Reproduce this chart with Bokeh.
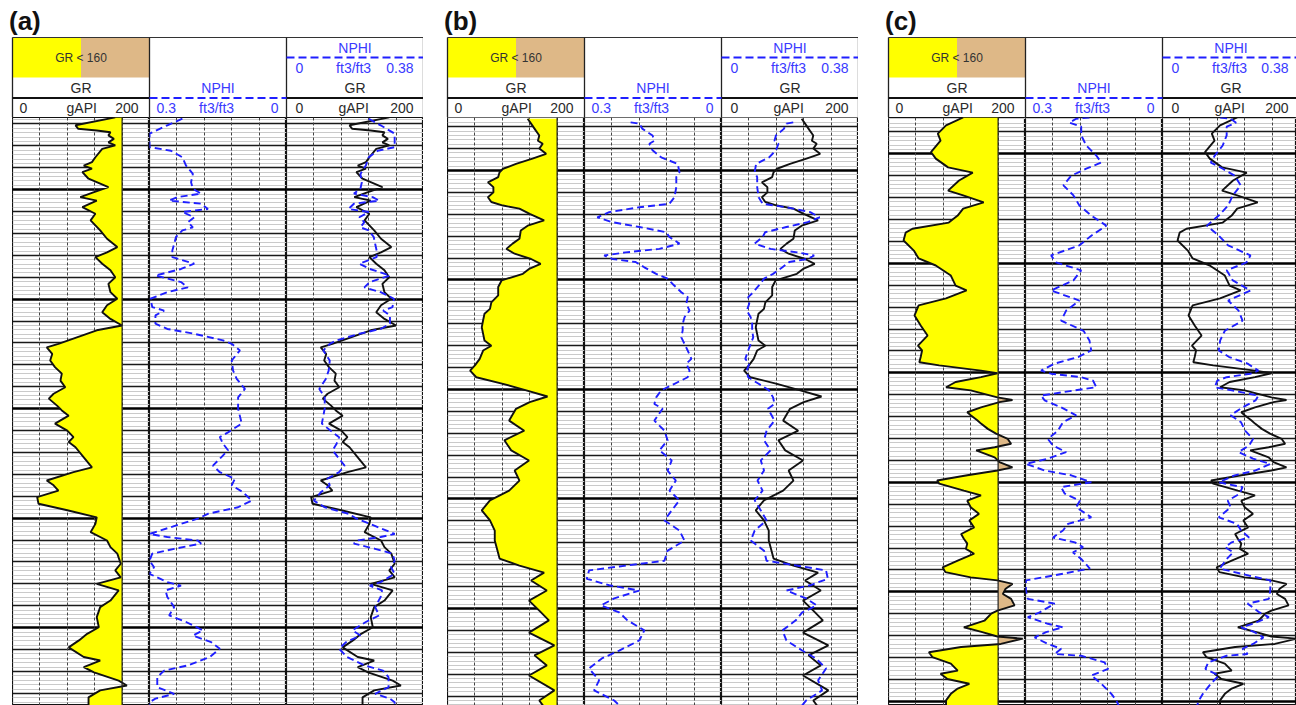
import numpy as np
from bokeh.plotting import figure
from bokeh.layouts import row, column, Spacer
from bokeh.models import Range1d, Grid, FixedTicker, Span
from bokeh.core.properties import value
from bokeh.embed import file_html
from bokeh.resources import INLINE

# ---------------- data (depth in log units, GR in gAPI, NPHI in ft3/ft3) ----------------
A_GR_DEPTH = [1008.5, 1010.3, 1011.1, 1011.5, 1011.9, 1012.6, 1013.4, 1014.2, 1014.9, 1015.7, 1017.6, 1018.7,
              1019.5, 1020.2, 1021.0, 1022.5, 1024.4, 1025.6, 1026.7, 1027.5, 1029.0, 1030.5, 1032.0, 1034.3,
              1036.2, 1038.1, 1039.3, 1040.4, 1041.9, 1043.4, 1045.0, 1046.5, 1048.4, 1049.9, 1051.4, 1053.0,
              1054.5, 1056.0, 1057.1, 1058.7, 1060.2, 1061.0, 1062.5, 1064.0, 1065.5, 1067.0, 1068.6, 1070.1,
              1071.6, 1072.7, 1074.3, 1075.4, 1076.6, 1078.4, 1080.0, 1081.5, 1082.6, 1083.8, 1086.1, 1088.4,
              1089.5, 1091.4, 1092.5, 1093.7, 1095.2, 1096.7, 1098.2, 1099.8, 1101.3, 1103.2, 1105.1, 1106.6,
              1108.1, 1110.4, 1111.9, 1113.5, 1115.0, 1116.5, 1118.8, 1120.3, 1122.6, 1124.9, 1126.4, 1127.9,
              1129.5, 1131.7, 1132.5, 1134.0, 1135.2, 1137.1, 1138.2, 1139.3, 1140.9, 1142.0, 1143.0]
A_GR = [150, 92, 96, 123, 143, 140, 148, 140, 150, 131, 121, 116,
        104, 116, 102, 111, 140, 118, 99, 123, 102, 121, 114, 128,
        138, 153, 138, 121, 131, 143, 150, 140, 143, 153, 138, 131,
        143, 160, 123, 94, 67, 50, 58, 55, 62, 72, 70, 77,
        60, 53, 65, 72, 82, 62, 80, 89, 82, 92, 104, 116,
        89, 50, 60, 67, 36, 38, 80, 123, 121, 114, 138, 143,
        153, 158, 150, 158, 123, 155, 143, 128, 123, 126, 109, 97,
        82, 104, 128, 104, 119, 155, 167, 128, 111, 111, 111]

A_NPHI_DEPTH = [1008.8, 1010.3, 1012.2, 1015.3, 1016.1, 1017.6, 1019.5, 1021.4, 1023.3, 1024.8, 1025.9, 1026.7,
                1027.5, 1028.2, 1029.4, 1030.1, 1031.3, 1032.4, 1033.6, 1034.3, 1035.8, 1037.4, 1038.9, 1040.4,
                1041.9, 1043.1, 1044.6, 1046.1, 1047.3, 1048.4, 1049.9, 1051.8, 1052.6, 1053.7, 1055.6, 1056.8,
                1057.9, 1059.4, 1060.2, 1061.7, 1064.0, 1066.3, 1068.2, 1070.5, 1072.4, 1075.0, 1078.4, 1080.4,
                1081.5, 1083.0, 1084.5, 1086.1, 1088.0, 1089.5, 1091.0, 1092.5, 1094.1, 1096.0, 1097.5, 1099.0,
                1100.1, 1101.3, 1102.8, 1103.6, 1104.3, 1105.1, 1105.8, 1107.0, 1108.1, 1109.7, 1111.2, 1112.7,
                1114.6, 1115.4, 1116.5, 1118.0, 1120.3, 1122.2, 1123.7, 1125.6, 1126.8, 1128.3, 1129.8, 1131.7,
                1133.6, 1134.8, 1136.3, 1138.6, 1140.1, 1141.2, 1142.0, 1143.0]
A_NPHI = [0.228, 0.261, 0.300, 0.300, 0.253, 0.228, 0.220, 0.205, 0.209, 0.205, 0.187, 0.239,
          0.257, 0.187, 0.172, 0.228, 0.202, 0.216, 0.205, 0.228, 0.242, 0.246, 0.250, 0.250,
          0.202, 0.231, 0.287, 0.231, 0.216, 0.261, 0.298, 0.294, 0.268, 0.287, 0.287, 0.261,
          0.202, 0.139, 0.120, 0.102, 0.120, 0.117, 0.109, 0.091, 0.106, 0.106, 0.098, 0.128,
          0.146, 0.139, 0.128, 0.143, 0.161, 0.146, 0.113, 0.120, 0.095, 0.076, 0.106, 0.172,
          0.194, 0.231, 0.276, 0.300, 0.261, 0.194, 0.187, 0.246, 0.294, 0.300, 0.290, 0.300,
          0.261, 0.231, 0.265, 0.261, 0.246, 0.257, 0.220, 0.183, 0.205, 0.165, 0.146, 0.168,
          0.216, 0.268, 0.283, 0.283, 0.246, 0.287, 0.300, 0.300]

B_GR_DEPTH = [1013.2, 1014.3, 1015.9, 1017.0, 1018.2, 1018.9, 1020.0, 1021.2, 1022.3, 1023.5, 1024.6, 1025.4,
              1026.5, 1027.7, 1028.8, 1030.0, 1031.1, 1032.2, 1033.0, 1033.7, 1034.9, 1036.4, 1037.6, 1038.7,
              1040.6, 1041.7, 1042.9, 1044.0, 1045.2, 1046.3, 1047.4, 1048.6, 1050.1, 1051.6, 1053.5, 1055.1,
              1056.6, 1057.7, 1059.2, 1060.8, 1062.3, 1063.8, 1065.0, 1066.1, 1068.0, 1069.5, 1070.7, 1072.2,
              1073.7, 1075.2, 1076.6, 1077.9, 1079.4, 1082.1, 1084.4, 1086.6, 1088.9, 1091.2, 1093.5, 1095.8,
              1098.1, 1100.3, 1102.6, 1104.9, 1107.2, 1109.5, 1111.8, 1113.6, 1115.2, 1116.8, 1118.6, 1120.9,
              1123.2, 1125.5, 1127.7, 1130.5, 1133.4, 1135.7, 1138.0, 1140.3, 1143.7, 1146.0, 1147.5]
B_GR = [117, 122, 129, 134, 132, 139, 134, 144, 124, 100, 81, 76,
        74, 59, 67, 67, 59, 64, 81, 105, 120, 141, 117, 107,
        105, 95, 86, 98, 122, 136, 120, 110, 79, 74, 74, 64,
        62, 54, 52, 50, 52, 54, 64, 52, 47, 40, 33, 42,
        81, 115, 146, 120, 100, 90, 112, 83, 93, 119, 98, 105,
        90, 62, 50, 62, 69, 69, 73, 76, 105, 141, 122, 145,
        119, 134, 148, 119, 156, 127, 145, 119, 156, 134, 141]

B_NPHI_DEPTH = [1014.0, 1014.3, 1015.5, 1017.0, 1018.2, 1018.9, 1020.4, 1022.0, 1023.5, 1025.4, 1026.5, 1028.8,
                1031.1, 1032.6, 1033.4, 1034.5, 1035.7, 1036.8, 1037.9, 1039.1, 1040.2, 1041.7, 1042.9, 1043.7,
                1044.4, 1045.2, 1045.9, 1047.1, 1048.6, 1049.7, 1050.9, 1052.8, 1053.9, 1055.4, 1057.0, 1058.5,
                1060.0, 1061.5, 1063.1, 1064.6, 1066.1, 1068.0, 1069.1, 1070.7, 1072.2, 1073.7, 1075.2, 1076.8,
                1078.3, 1079.4, 1082.1, 1084.4, 1086.6, 1088.9, 1091.2, 1093.5, 1095.8, 1098.1, 1100.3, 1102.6,
                1104.9, 1107.2, 1109.5, 1111.8, 1114.1, 1115.4, 1116.3, 1118.2, 1119.7, 1120.9, 1122.7, 1124.3,
                1125.9, 1127.7, 1130.0, 1132.3, 1134.6, 1136.4, 1138.7, 1141.4, 1143.7, 1146.0, 1147.5]
B_NPHI = [0.199, 0.180, 0.173, 0.151, 0.147, 0.158, 0.151, 0.132, 0.096, 0.092, 0.099, 0.099,
          0.103, 0.114, 0.180, 0.246, 0.272, 0.239, 0.180, 0.121, 0.114, 0.092, 0.136, 0.210,
          0.257, 0.239, 0.188, 0.169, 0.143, 0.118, 0.107, 0.088, 0.074, 0.077, 0.070, 0.081,
          0.085, 0.085, 0.088, 0.081, 0.074, 0.066, 0.077, 0.070, 0.074, 0.103, 0.132, 0.143,
          0.147, 0.129, 0.147, 0.125, 0.118, 0.136, 0.109, 0.118, 0.100, 0.114, 0.092, 0.109,
          0.125, 0.092, 0.081, 0.118, 0.125, 0.224, 0.290, 0.295, 0.246, 0.180, 0.235, 0.264,
          0.224, 0.206, 0.169, 0.180, 0.224, 0.262, 0.290, 0.268, 0.279, 0.235, 0.220]

C_GR_DEPTH = [1016.7, 1018.5, 1020.4, 1022.0, 1024.6, 1026.1, 1028.1, 1029.3, 1031.1, 1033.4, 1034.5, 1036.1,
              1037.5, 1039.1, 1040.7, 1042.1, 1043.0, 1044.8, 1047.1, 1048.9, 1050.5, 1052.8, 1055.1, 1056.2,
              1058.0, 1059.6, 1061.9, 1064.2, 1066.5, 1068.8, 1069.9, 1071.4, 1072.6, 1073.3, 1074.5, 1075.1,
              1076.0, 1077.1, 1078.3, 1079.0, 1080.6, 1081.2, 1081.7, 1082.9, 1084.0, 1084.7, 1085.9, 1086.6,
              1087.8, 1088.9, 1090.1, 1091.2, 1092.0, 1092.7, 1094.3, 1095.4, 1096.6, 1097.3, 1098.4, 1099.6,
              1100.3, 1101.9, 1103.0, 1104.2, 1105.7, 1107.2, 1108.7, 1110.3, 1111.8, 1112.9, 1114.0, 1115.2,
              1116.3, 1117.9, 1119.4, 1120.5, 1121.7, 1122.4, 1123.2, 1124.3, 1125.5, 1126.6, 1128.1, 1129.3,
              1130.0, 1131.6, 1133.1, 1134.2, 1135.2, 1135.7, 1136.9, 1137.6, 1138.8, 1139.9, 1141.4, 1143.0,
              1143.7, 1144.9, 1146.0, 1147.1, 1148.3, 1149.8, 1151.2]
C_GR = [109, 84, 72, 76, 62, 69, 87, 123, 103, 87, 109, 139,
        109, 101, 88, 35, 25, 22, 37, 44, 69, 91, 98, 114,
        84, 44, 38, 47, 57, 43, 49, 47, 45, 74, 135, 159,
        135, 98, 84, 120, 159, 181, 162, 135, 115, 120, 130, 135,
        145, 157, 174, 179, 155, 128, 155, 162, 181, 159, 115, 71,
        74, 110, 135, 115, 120, 132, 118, 125, 106, 110, 115, 113,
        125, 101, 79, 83, 120, 159, 181, 171, 167, 179, 184, 159,
        150, 140, 110, 137, 159, 196, 164, 106, 59, 64, 91, 101,
        76, 86, 118, 101, 91, 84, 84]

C_NPHI_DEPTH = [1016.7, 1017.0, 1017.9, 1018.8, 1020.8, 1023.1, 1025.4, 1027.0, 1028.4, 1030.0, 1032.2, 1034.5,
                1036.8, 1039.1, 1041.4, 1043.7, 1045.9, 1048.2, 1049.8, 1051.6, 1053.9, 1056.2, 1058.5, 1060.8,
                1063.1, 1065.4, 1067.6, 1069.9, 1071.4, 1072.9, 1074.5, 1075.2, 1076.0, 1076.8, 1078.3, 1079.0,
                1080.2, 1081.3, 1082.9, 1084.7, 1086.3, 1088.2, 1090.1, 1091.6, 1093.1, 1094.6, 1095.8, 1097.3,
                1098.4, 1100.0, 1101.1, 1102.6, 1104.2, 1105.7, 1108.0, 1109.5, 1111.0, 1112.6, 1113.7, 1114.8,
                1116.0, 1117.5, 1119.7, 1121.3, 1122.4, 1124.7, 1126.6, 1127.7, 1129.7, 1130.8, 1132.3, 1133.1,
                1134.2, 1135.4, 1136.9, 1138.0, 1139.2, 1139.6, 1141.1, 1142.6, 1144.1, 1146.0, 1148.3, 1149.8,
                1151.2]
C_NPHI = [0.160, 0.189, 0.204, 0.178, 0.178, 0.167, 0.145, 0.134, 0.167, 0.200, 0.217, 0.195,
          0.182, 0.156, 0.123, 0.156, 0.182, 0.244, 0.233, 0.178, 0.195, 0.244, 0.182, 0.211,
          0.222, 0.173, 0.160, 0.156, 0.185, 0.236, 0.266, 0.244, 0.178, 0.152, 0.145, 0.192,
          0.266, 0.258, 0.222, 0.189, 0.218, 0.229, 0.251, 0.240, 0.211, 0.251, 0.299, 0.258,
          0.200, 0.156, 0.222, 0.214, 0.181, 0.189, 0.156, 0.207, 0.218, 0.240, 0.192, 0.174,
          0.196, 0.178, 0.159, 0.240, 0.299, 0.299, 0.295, 0.236, 0.269, 0.295, 0.251, 0.218,
          0.255, 0.280, 0.251, 0.222, 0.236, 0.178, 0.127, 0.119, 0.156, 0.134, 0.112, 0.101,
          0.095]

GR_CUTOFF = 160
GR_SCALE = (0, 200)
NPHI_SCALE_TRACK = (0.3, 0.0)
NPHI_SCALE_OVERLAY = (0.0, 0.38)
GRID_MINOR, GRID_MEDIUM, GRID_MAJOR = 1, 5, 25

# ---------------- layout constants ----------------
TRACK_W = 137
PLOT_H = 588
HEAD_H = 117
PX_PER_UNIT = 4.38
FONT = "Liberation Sans"
BLUE = "#1f1fff"
BLUE_TXT = "#3a3aff"
TXT = "#2a2a2a"


def densify_cut(d, g, cut):
    dd, gg = [d[0]], [g[0]]
    for i in range(1, len(d)):
        if (g[i - 1] - cut) * (g[i] - cut) < 0:
            t = (cut - g[i - 1]) / (g[i] - g[i - 1])
            dd.append(d[i - 1] + t * (d[i] - d[i - 1]))
            gg.append(cut)
        dd.append(d[i])
        gg.append(g[i])
    return np.array(dd), np.array(gg, dtype=float)


def base_track(width, xr, top):
    bottom = top + PLOT_H / PX_PER_UNIT
    p = figure(width=width, height=PLOT_H, x_range=xr, y_range=Range1d(bottom, top),
               x_axis_type=None, y_axis_type=None, toolbar_location=None,
               output_backend="svg", min_border=0,
               outline_line_color="#111111", outline_line_width=1.2,
               background_fill_color="white", border_fill_color="white")
    lo = int(np.floor(top)) - 1
    hi = int(np.ceil(bottom)) + 1
    minor = [v for v in range(lo, hi) if v % GRID_MINOR == 0 and v % GRID_MEDIUM != 0]
    medium = [v for v in range(lo, hi) if v % GRID_MEDIUM == 0 and v % GRID_MAJOR != 0]
    major = [v for v in range(lo, hi) if v % GRID_MAJOR == 0]
    p.add_layout(Grid(dimension=1, ticker=FixedTicker(ticks=minor), grid_line_color="#cacaca", grid_line_width=1))
    p.add_layout(Grid(dimension=1, ticker=FixedTicker(ticks=medium), grid_line_color="#1a1a1a", grid_line_width=1.4))
    p.add_layout(Grid(dimension=1, ticker=FixedTicker(ticks=major), grid_line_color="#000000", grid_line_width=2.4))
    return p


def vgrid(p, ticks):
    p.add_layout(Grid(dimension=0, ticker=FixedTicker(ticks=ticks), grid_line_color="#444444",
                      grid_line_width=1, grid_line_dash="3 2"))


def gr_track(width, top, d, g):
    p = base_track(width, Range1d(*GR_SCALE), top)
    vgrid(p, [40, 80, 120, 160])
    dd, gg = densify_cut(d, g, GR_CUTOFF)
    p.harea(x1=np.minimum(gg, GR_CUTOFF), x2=GR_CUTOFF, y=dd, fill_color="#ffff00")
    p.harea(x1=GR_CUTOFF, x2=np.maximum(gg, GR_CUTOFF), y=dd, fill_color="#deb887")
    p.add_layout(Span(location=GR_CUTOFF, dimension="height", line_color="#222222", line_width=1.2))
    p.line(g, d, line_color="#111111", line_width=1.9)
    return p


def nphi_track(width, top, d, n):
    p = base_track(width, Range1d(*NPHI_SCALE_TRACK), top)
    vgrid(p, [0.24, 0.18, 0.12, 0.06])
    p.line(n, d, line_color=BLUE, line_width=1.9, line_dash="7 4")
    return p


def overlay_track(width, top, dg, g, dn, n):
    frac = width / TRACK_W
    p = base_track(width, Range1d(GR_SCALE[0], GR_SCALE[0] + (GR_SCALE[1] - GR_SCALE[0]) * frac), top)
    p.extra_x_ranges = {"nphi": Range1d(NPHI_SCALE_OVERLAY[0],
                                        NPHI_SCALE_OVERLAY[0] + (NPHI_SCALE_OVERLAY[1] - NPHI_SCALE_OVERLAY[0]) * frac)}
    vgrid(p, [40, 80, 120, 160])
    p.line(g, dg, line_color="#111111", line_width=1.9)
    p.line(n, dn, line_color=BLUE, line_width=1.9, line_dash="7 4", x_range_name="nphi")
    return p


def header(label, widths, pad):
    total = pad + sum(widths)
    x0 = -pad / TRACK_W
    x1 = x0 + total / TRACK_W
    xend = sum(widths) / TRACK_W
    p = figure(width=total, height=HEAD_H, x_range=Range1d(x0, x1), y_range=Range1d(HEAD_H, 0),
               x_axis_type=None, y_axis_type=None, toolbar_location=None, output_backend="svg",
               min_border=0, outline_line_color=None, background_fill_color="white", border_fill_color="white")
    u = 1.0 / TRACK_W
    p.text(x=[-3.5 * u], y=[20], text=[label], text_font=value(FONT), text_font_style="bold",
           text_font_size="26px", text_baseline="middle", text_align="left", text_color="#111111")
    # GR < 160 box
    p.quad(left=[0, 0.5], right=[0.5, 1.0], top=[37, 37], bottom=[77, 77],
           fill_color=["#ffff00", "#deb887"], line_color=None)
    p.text(x=[0.5], y=[57.5], text=["GR < 160"], text_font=value(FONT), text_font_size="12px",
           text_baseline="middle", text_align="center", text_color="#333333")
    # frame lines
    p.segment(x0=[0], y0=[37], x1=[xend], y1=[37], line_color="#333333", line_width=1)
    seps = [s for s in [0, 1, 2, 3] if s <= xend + 1e-9]
    p.segment(x0=seps, y0=[37] * len(seps), x1=seps, y1=[HEAD_H] * len(seps), line_color="#222222", line_width=1.3)
    # heavy line above scale row
    p.segment(x0=[0, 2], y0=[97.5, 97.5], x1=[1, xend], y1=[97.5, 97.5], line_color="#111111", line_width=2.2)
    p.segment(x0=[1], y0=[97.5], x1=[2], y1=[97.5], line_color=BLUE, line_width=2.2, line_dash="8 4")
    # track 3 NPHI scale block
    p.segment(x0=[2], y0=[57], x1=[xend], y1=[57], line_color=BLUE, line_width=2.2, line_dash="8 4")
    right3 = min(3 - 10 * u, xend - 8 * u)
    common = dict(text_font=value(FONT), text_font_size="14px", text_baseline="middle")
    p.text(x=[2.5], y=[47], text=["NPHI"], text_align="center", text_color=BLUE_TXT, **common)
    p.text(x=[2 + 9 * u], y=[67], text=["0"], text_align="left", text_color=BLUE_TXT, **common)
    p.text(x=[2.49], y=[67], text=["ft3/ft3"], text_align="center", text_color=BLUE_TXT, **common)
    p.text(x=[right3], y=[67], text=["0.38"], text_align="right", text_color=BLUE_TXT, **common)
    # row 2
    p.text(x=[0.5, 2.5], y=[87.5, 87.5], text=["GR", "GR"], text_align="center", text_color=TXT, **common)
    p.text(x=[1.5], y=[87.5], text=["NPHI"], text_align="center", text_color=BLUE_TXT, **common)
    # row 3 scales
    p.text(x=[7 * u, 2 + 9 * u], y=[107, 107], text=["0", "0"], text_align="left", text_color=TXT, **common)
    p.text(x=[0.505, 2.49], y=[107, 107], text=["gAPI", "gAPI"], text_align="center", text_color=TXT, **common)
    p.text(x=[1 - 11 * u, right3], y=[107, 107], text=["200", "200"], text_align="right", text_color=TXT, **common)
    p.text(x=[1 + 7 * u], y=[107], text=["0.3"], text_align="left", text_color=BLUE_TXT, **common)
    p.text(x=[1.49], y=[107], text=["ft3/ft3"], text_align="center", text_color=BLUE_TXT, **common)
    p.text(x=[2 - 8 * u], y=[107], text=["0"], text_align="right", text_color=BLUE_TXT, **common)
    return p


def panel(label, top, gd, g, nd, n, widths, pad):
    h = header(label, widths, pad)
    t1 = gr_track(widths[0], top, gd, g)
    t2 = nphi_track(widths[1], top, nd, n)
    t3 = overlay_track(widths[2], top, gd, g, nd, n)
    return column(h, row(Spacer(width=pad, height=PLOT_H), t1, t2, t3, spacing=0), spacing=0)


TOP_A = 1008.52
TOP_B = 1012.90
TOP_C = 1016.71

pa = panel("(a)", TOP_A, A_GR_DEPTH, A_GR, A_NPHI_DEPTH, A_NPHI, [TRACK_W, TRACK_W, TRACK_W], 12)
pb = panel("(b)", TOP_B, B_GR_DEPTH, B_GR, B_NPHI_DEPTH, B_NPHI, [TRACK_W, TRACK_W, TRACK_W], 4)
pc = panel("(c)", TOP_C, C_GR_DEPTH, C_GR, C_NPHI_DEPTH, C_NPHI, [TRACK_W, TRACK_W, 134], 4)

layout = row(pa, Spacer(width=20, height=10), pb, Spacer(width=26, height=10), pc, spacing=0)

open("out.html", "w").write(file_html(layout, INLINE))
